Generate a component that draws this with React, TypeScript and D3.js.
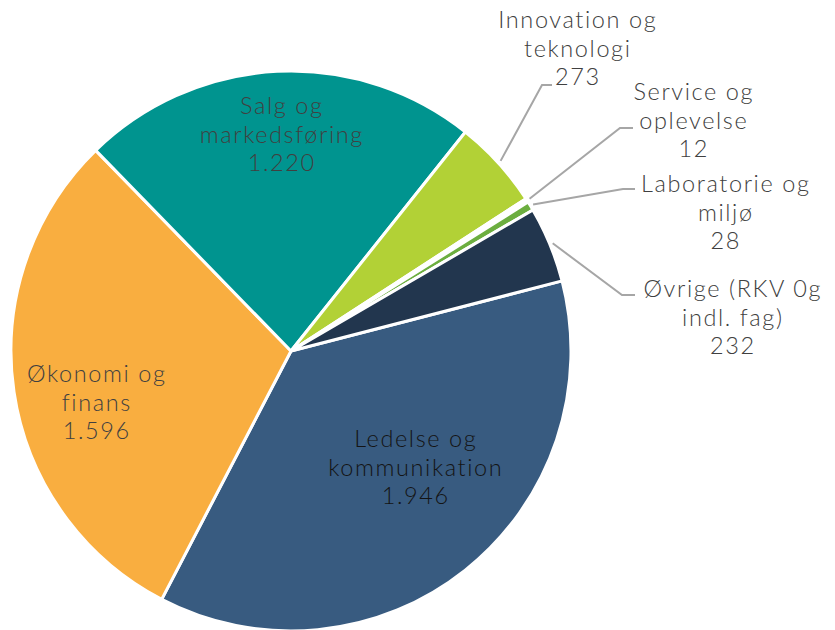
import React, { useEffect, useRef } from "react";
import * as d3 from "d3";

const categories = [
  "Ledelse og kommunikation",
  "Økonomi og finans",
  "Salg og markedsføring",
  "Innovation og teknologi",
  "Service og oplevelse",
  "Laboratorie og miljø",
  "Øvrige (RKV 0g indl. fag)",
];
const values = [1946, 1596, 1220, 273, 12, 28, 232];
const valueLabels = ["1.946", "1.596", "1.220", "273", "12", "28", "232"];
const labelLines = [
  ["Ledelse og", "kommunikation"],
  ["Økonomi og", "finans"],
  ["Salg og", "markedsføring"],
  ["Innovation og", "teknologi"],
  ["Service og", "oplevelse"],
  ["Laboratorie og", "miljø"],
  ["Øvrige (RKV 0g", "indl. fag)"],
];
const colors = ["#385B80", "#F9AE40", "#00948F", "#B2D136", "#FFFFFF", "#6CAE3F", "#22364E"];
const textColors = ["#141414", "#404040", "#404040", "#404040", "#404040", "#404040", "#404040"];

// label layout: center x, first baseline y; outside labels also get an elbow for the leader
const labelLayout = [
  { x: 415, y: 447, outside: false },
  { x: 96, y: 382, outside: false },
  { x: 281, y: 114, outside: false },
  { x: 577, y: 28, outside: true, elbow: [542, 85], end: 552 },
  { x: 693, y: 100, outside: true, elbow: [620, 128], end: 633 },
  { x: 725, y: 192, outside: true, elbow: [623, 189], end: 635 },
  { x: 732, y: 297, outside: true, elbow: [622, 295], end: 635 },
];

export default function App() {
  const svgRef = useRef<SVGSVGElement>(null);

  useEffect(() => {
    const svg = d3.select(svgRef.current);
    svg.selectAll("*").remove();

    const W = 835, H = 630;
    const cx = 291, cy = 351, r = 280;
    const lineH = 28.5;
    const start = (75.5 * Math.PI) / 180;

    const data = categories.map((c, i) => ({ c, v: values[i], i }));
    const pie = d3.pie<any>().sort(null).value((d) => d.v)
      .startAngle(start).endAngle(start + 2 * Math.PI);
    const arcs = pie(data);
    const arc = d3.arc<any>().innerRadius(0).outerRadius(r);

    const g = svg.append("g").attr("transform", `translate(${cx},${cy})`);
    g.selectAll("path.slice")
      .data(arcs)
      .enter()
      .append("path")
      .attr("class", "slice")
      .attr("d", arc)
      .attr("fill", (d) => colors[d.data.i])
      .attr("stroke", "#ffffff")
      .attr("stroke-width", 3)
      .attr("stroke-linejoin", "round");

    // leader lines for outside labels
    arcs.forEach((a) => {
      const L: any = labelLayout[a.data.i];
      if (!L.outside) return;
      const mid = (a.startAngle + a.endAngle) / 2;
      const x0 = cx + Math.sin(mid) * (r + 3);
      const y0 = cy - Math.cos(mid) * (r + 3);
      svg.append("path")
        .attr("d", `M${x0},${y0}L${L.elbow[0]},${L.elbow[1]}L${L.end},${L.elbow[1]}`)
        .attr("fill", "none")
        .attr("stroke", "#A6A6A6")
        .attr("stroke-width", 2);
    });

    // labels
    categories.forEach((c, i) => {
      const L = labelLayout[i];
      const lines = [...labelLines[i], valueLabels[i]];
      const t = svg.append("text")
        .attr("text-anchor", "middle")
        .attr("font-family", "Lato, 'Noto Sans', sans-serif")
        .attr("font-weight", 300)
        .attr("font-size", 23.5)
        .attr("letter-spacing", 1.6)
        .attr("fill", textColors[i]);
      lines.forEach((ln, k) => {
        t.append("tspan").attr("x", L.x + 0.8).attr("y", L.y + k * lineH).text(ln);
      });
    });

    svg.attr("width", W).attr("height", H);
  }, []);

  return (
    <svg ref={svgRef} width={835} height={630}
      style={{ position: "absolute", left: 0, top: 0, background: "#ffffff" }} />
  );
}
